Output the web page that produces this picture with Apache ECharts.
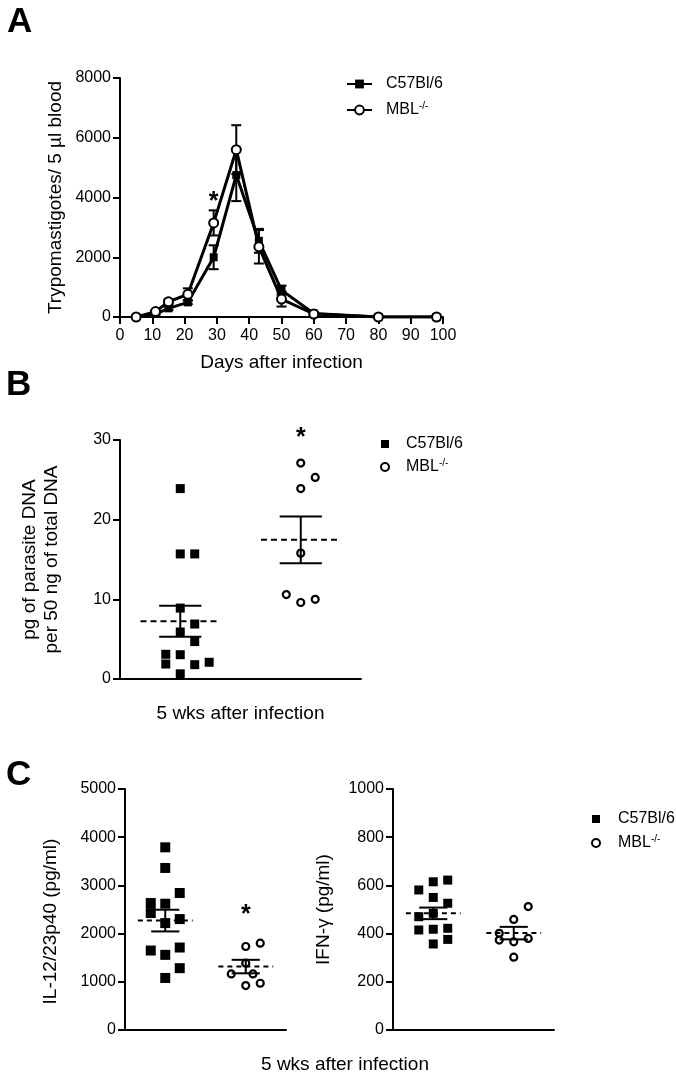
<!DOCTYPE html>
<html>
<head>
<meta charset="utf-8">
<script src="https://cdn.jsdelivr.net/npm/echarts@6/dist/echarts.min.js"></script>
<style>
  html, body { margin: 0; padding: 0; background: #fff; }
  #chart { width: 676px; height: 1076px; }
</style>
</head>
<body>
<div id="chart"></div>
<script>
// ---------- Panel A: parasitaemia time course ----------
const daysA   = [5, 11, 15, 21, 29, 36, 43, 50, 60, 80, 98];
const c57A    = [0, 100, 290, 490, 2000, 4750, 2550, 900, 120, 0, 0];
const c57ASem = [0, 40, 60, 60, 400, 870, 400, 150, 40, 0, 0];
const mblA    = [0, 180, 510, 760, 3150, 5600, 2350, 600, 100, 0, 0];
const mblASem = [0, 50, 70, 200, 420, 820, 560, 250, 30, 0, 0];
const xTicksA = [0, 100, 10];      // min, max, interval
const yTicksA = [0, 8000, 2000];
const starA   = [[29, 3850]];

// ---------- Panel B: parasite DNA ----------
const dnaC57    = [23.9, 15.7, 15.7, 8.9, 6.9, 5.9, 4.7, 3.1, 3.05, 1.88, 1.8, 2.1, 0.65];
const dnaC57Col = [0, 0, 1, 0, 1, 0, 1, -1, 0, -1, 1, 2, 0];
const dnaMbl    = [27.1, 25.3, 23.9, 15.8, 10.6, 9.6, 10.0];
const dnaMblCol = [0, 1, 0, 0, -1, 0, 1];
const dnaMean   = [7.24, 17.47];
const dnaSem    = [1.95, 2.93];
const yTicksB   = [0, 30, 10];
const starB     = [[1.5, 30.2]];

// ---------- Panel C: IL-12/23p40 ----------
const il12C57    = [3790, 3362, 2842, 2634, 2620, 2426, 2301, 2218, 1649, 1559, 1711, 1283, 1080];
const il12C57Col = [0, 0, 1, -1, 0, -1, 1, 0, -1, 0, 1, 1, 0];
const il12Mbl    = [1732, 1802, 1386, 1164, 1164, 921, 970];
const il12MblCol = [0, 1, 0, -1, 0.5, 0, 1];
const il12Mean   = [2270, 1316];
const il12Sem    = [225, 140];
const yTicksC1   = [0, 5000, 1000];
const starC      = [[1.5, 2390]];

// ---------- Panel C: IFN-gamma ----------
const ifnC57    = [581, 615, 622, 550, 526, 470, 484, 415, 418, 422, 376, 357];
const ifnC57Col = [-1, 0, 1, 0, 1, -1, 0, -1, 0, 1, 1, 0];
const ifnMbl    = [512, 459, 401, 373, 366, 380, 302];
const ifnMblCol = [1, 0, -1, -1, 0, 1, 0];
const ifnMean   = [484, 402];
const ifnSem    = [24, 26];
const yTicksC2  = [0, 1000, 200];

const seriesNames = ['C57Bl/6', 'MBL'];

// ---------- helpers ----------
const FONT = '"Liberation Sans", Arial, Helvetica, sans-serif';
const BLACK = '#000';

function jitter(values, cols, group, step) {
  return values.map((v, i) => [group + 0.5 + cols[i] * step, v]);
}
function meanSemData(means, sems) {
  return means.map((m, i) => [i + 0.5, m, sems[i]]);
}
function meanSemRender(dashHalf, capHalf, dash) {
  return function (params, api) {
    const x = api.value(0), m = api.value(1), s = api.value(2);
    const l = api.coord([x - dashHalf, m]);
    const r = api.coord([x + dashHalf, m]);
    const t = api.coord([x, m + s]);
    const b = api.coord([x, m - s]);
    const cl = api.coord([x - capHalf, m])[0];
    const cr = api.coord([x + capHalf, m])[0];
    const st = { stroke: BLACK, lineWidth: 2, fill: null };
    return {
      type: 'group',
      children: [
        { type: 'line', shape: { x1: l[0], y1: l[1], x2: r[0], y2: r[1] }, style: Object.assign({ lineDash: dash }, st) },
        { type: 'line', shape: { x1: t[0], y1: t[1], x2: b[0], y2: b[1] }, style: st },
        { type: 'line', shape: { x1: cl, y1: t[1], x2: cr, y2: t[1] }, style: st },
        { type: 'line', shape: { x1: cl, y1: b[1], x2: cr, y2: b[1] }, style: st }
      ]
    };
  };
}
function errBarRender(params, api) {
  const x = api.value(0), m = api.value(1), s = api.value(2);
  if (!s) return null;
  const t = api.coord([x, m + s]);
  const b = api.coord([x, m - s]);
  const st = { stroke: BLACK, lineWidth: 2, fill: null };
  return {
    type: 'group',
    children: [
      { type: 'line', shape: { x1: t[0], y1: t[1], x2: b[0], y2: b[1] }, style: st },
      { type: 'line', shape: { x1: t[0] - 5, y1: t[1], x2: t[0] + 5, y2: t[1] }, style: st },
      { type: 'line', shape: { x1: b[0] - 5, y1: b[1], x2: b[0] + 5, y2: b[1] }, style: st }
    ]
  };
}
function starRender(params, api) {
  const p = api.coord([api.value(0), api.value(1)]);
  return { type: 'text', x: p[0], y: p[1],
    style: { text: '*', fontSize: 25, fontWeight: 'bold', fontFamily: FONT, fill: BLACK,
             align: 'center', verticalAlign: 'middle' } };
}
const plainNum = v => String(v);
function yAxis(gridIndex, ticks, name, nameGap, extra) {
  return Object.assign({
    type: 'value', gridIndex: gridIndex,
    min: ticks[0], max: ticks[1], interval: ticks[2],
    name: name, nameLocation: 'middle', nameRotate: 90, nameGap: nameGap,
    nameTextStyle: { color: BLACK, fontSize: 19, fontFamily: FONT, lineHeight: 22 },
    axisLine: { show: true, lineStyle: { color: BLACK, width: 2 } },
    axisTick: { show: true, length: 7, lineStyle: { color: BLACK, width: 2 } },
    axisLabel: { color: BLACK, fontSize: 16, margin: 9, fontFamily: FONT, formatter: plainNum },
    splitLine: { show: false }
  }, extra || {});
}
function catXAxis(gridIndex, name, nameGap) {
  return {
    type: 'value', gridIndex: gridIndex, min: 0, max: 2,
    name: name || '', nameLocation: 'middle', nameGap: nameGap || 20,
    nameTextStyle: { color: BLACK, fontSize: 19, fontFamily: FONT },
    axisLine: { show: true, lineStyle: { color: BLACK, width: 2 } },
    axisTick: { show: false }, axisLabel: { show: false }, splitLine: { show: false }
  };
}
const squareStyle = { color: BLACK, borderWidth: 0, opacity: 1 };
const circleStyle = { color: '#fff', borderColor: BLACK, borderWidth: 2.2, opacity: 1 };

function scatterPair(ax, c57Vals, c57Cols, mblVals, mblCols, step, sqSize) {
  return [
    { type: 'scatter', name: 's' + seriesNames[0], xAxisIndex: ax, yAxisIndex: ax,
      data: jitter(c57Vals, c57Cols, 0, step), symbol: 'rect', symbolSize: sqSize,
      itemStyle: squareStyle, z: 3, silent: true },
    { type: 'scatter', name: 's' + seriesNames[1], xAxisIndex: ax, yAxisIndex: ax,
      data: jitter(mblVals, mblCols, 1, step), symbol: 'circle', symbolSize: 7,
      itemStyle: circleStyle, z: 3, silent: true }
  ];
}
function starSeries(ax, data) {
  return { type: 'custom', xAxisIndex: ax, yAxisIndex: ax, data: data, renderItem: starRender,
    clip: false, silent: true, z: 5, encode: { x: 0, y: 1 } };
}
function legendFormatter(name) {
  return name.indexOf('MBL') >= 0 ? '{t|MBL}{s|-/-}' : '{t|C57Bl/6}';
}
const legendRich = {
  t: { fontSize: 16, lineHeight: 18, color: BLACK, fontFamily: FONT },
  s: { fontSize: 10, lineHeight: 10, color: BLACK, fontFamily: FONT, verticalAlign: 'top' }
};

const stepB = 0.12, stepC = 0.18;

function letter(txt, x, y) {
  return { type: 'text', x: x, y: y, style: { text: txt, fontSize: 35, fontWeight: 'bold', fontFamily: FONT,
           fill: BLACK, align: 'left', verticalAlign: 'middle' } };
}

const option = {
  animation: false,
  backgroundColor: '#fff',
  textStyle: { fontFamily: FONT },
  grid: [
    { left: 120, top: 78, width: 323, height: 239, outerBoundsMode: 'none' },
    { left: 120, top: 440, width: 241, height: 239, outerBoundsMode: 'none' },
    { left: 125, top: 789, width: 161, height: 241, outerBoundsMode: 'none' },
    { left: 393, top: 789, width: 161, height: 241, outerBoundsMode: 'none' }
  ],
  xAxis: [
    { type: 'value', gridIndex: 0, min: xTicksA[0], max: xTicksA[1], interval: xTicksA[2],
      name: 'Days after infection', nameLocation: 'middle', nameGap: 36,
      nameTextStyle: { color: BLACK, fontSize: 19, fontFamily: FONT },
      axisLine: { show: true, lineStyle: { color: BLACK, width: 2 } },
      axisTick: { show: true, length: 7, lineStyle: { color: BLACK, width: 2 } },
      axisLabel: { color: BLACK, fontSize: 16, margin: 11, fontFamily: FONT, formatter: plainNum },
      splitLine: { show: false } },
    catXAxis(1, '5 wks after infection', 25),
    catXAxis(2),
    catXAxis(3)
  ],
  yAxis: [
    yAxis(0, yTicksA, 'Trypomastigotes/ 5 \u00b5l blood', 53),
    yAxis(1, yTicksB, 'pg of parasite DNA\nper 50 ng of total DNA', 57),
    yAxis(2, yTicksC1, 'IL-12/23p40 (pg/ml)', 63,
          { nameTextStyle: { color: BLACK, fontSize: 19, fontFamily: FONT, lineHeight: 22, padding: [0, 24, 0, 0] } }),
    yAxis(3, yTicksC2, 'IFN-\u03b3 (pg/ml)', 58)
  ],
  legend: [
    { data: [ { name: seriesNames[0], itemStyle: { borderWidth: 0 } },
              { name: seriesNames[1], itemStyle: { color: '#fff', borderColor: BLACK, borderWidth: 2 } } ],
      orient: 'vertical', left: 341, top: 71, itemWidth: 25, itemHeight: 11, itemGap: 9,
      selectedMode: false, formatter: legendFormatter,
      textStyle: { rich: legendRich, padding: [0, 0, 0, 9] } },
    { data: [ { name: 's' + seriesNames[0] }, { name: 's' + seriesNames[1], itemStyle: { borderWidth: 2 } } ],
      orient: 'vertical', left: 375, top: 431, itemWidth: 8, itemHeight: 8, itemGap: 6,
      selectedMode: false, formatter: legendFormatter,
      textStyle: { rich: legendRich, padding: [0, 0, 0, 12] } },
    { data: [ { name: 's' + seriesNames[0] }, { name: 's' + seriesNames[1], itemStyle: { borderWidth: 2 } } ],
      orient: 'vertical', left: 586, top: 806, itemWidth: 8, itemHeight: 8, itemGap: 7,
      selectedMode: false, formatter: legendFormatter,
      textStyle: { rich: legendRich, padding: [0, 0, 0, 13] } }
  ],
  graphic: [
    letter('A', 7, 22),
    letter('B', 6, 385),
    letter('C', 6, 775),
    { type: 'text', x: 345, y: 1065, style: { text: '5 wks after infection', fontSize: 19, fontFamily: FONT,
      fill: BLACK, align: 'center', verticalAlign: 'middle' } }
  ],
  series: [
    // Panel A error bars
    { type: 'custom', xAxisIndex: 0, yAxisIndex: 0, renderItem: errBarRender, z: 1, silent: true,
      encode: { x: 0, y: 1 }, data: daysA.map((d, i) => [d, c57A[i], c57ASem[i]]) },
    { type: 'custom', xAxisIndex: 0, yAxisIndex: 0, renderItem: errBarRender, z: 1, silent: true,
      encode: { x: 0, y: 1 }, data: daysA.map((d, i) => [d, mblA[i], mblASem[i]]) },
    // Panel A lines
    { type: 'line', name: seriesNames[0], xAxisIndex: 0, yAxisIndex: 0, z: 2,
      data: daysA.map((d, i) => [d, c57A[i]]), symbol: 'rect', symbolSize: 8, showSymbol: true,
      lineStyle: { color: BLACK, width: 3 }, itemStyle: squareStyle, silent: true },
    { type: 'line', name: seriesNames[1], xAxisIndex: 0, yAxisIndex: 0, z: 2,
      data: daysA.map((d, i) => [d, mblA[i]]), symbol: 'circle', symbolSize: 9, showSymbol: true,
      lineStyle: { color: BLACK, width: 3 }, itemStyle: { color: '#fff', borderColor: BLACK, borderWidth: 2, opacity: 1 }, silent: true },
    starSeries(0, starA),
    // Panel B
    ...scatterPair(1, dnaC57, dnaC57Col, dnaMbl, dnaMblCol, stepB, 9),
    { type: 'custom', xAxisIndex: 1, yAxisIndex: 1, renderItem: meanSemRender(0.33, 0.175, [6, 4]), z: 4,
      silent: true, encode: { x: 0, y: 1 }, data: meanSemData(dnaMean, dnaSem) },
    starSeries(1, starB),
    // Panel C left
    ...scatterPair(2, il12C57, il12C57Col, il12Mbl, il12MblCol, stepC, 10),
    { type: 'custom', xAxisIndex: 2, yAxisIndex: 2, renderItem: meanSemRender(0.34, 0.175, [5, 4]), z: 4,
      silent: true, encode: { x: 0, y: 1 }, data: meanSemData(il12Mean, il12Sem) },
    starSeries(2, starC),
    // Panel C right
    ...scatterPair(3, ifnC57, ifnC57Col, ifnMbl, ifnMblCol, stepC, 9),
    { type: 'custom', xAxisIndex: 3, yAxisIndex: 3, renderItem: meanSemRender(0.34, 0.175, [5, 4]), z: 4,
      silent: true, encode: { x: 0, y: 1 }, data: meanSemData(ifnMean, ifnSem) }
  ]
};

const chart = echarts.init(document.getElementById('chart'), null, { renderer: 'canvas' });
chart.setOption(option);
</script>
</body>
</html>
